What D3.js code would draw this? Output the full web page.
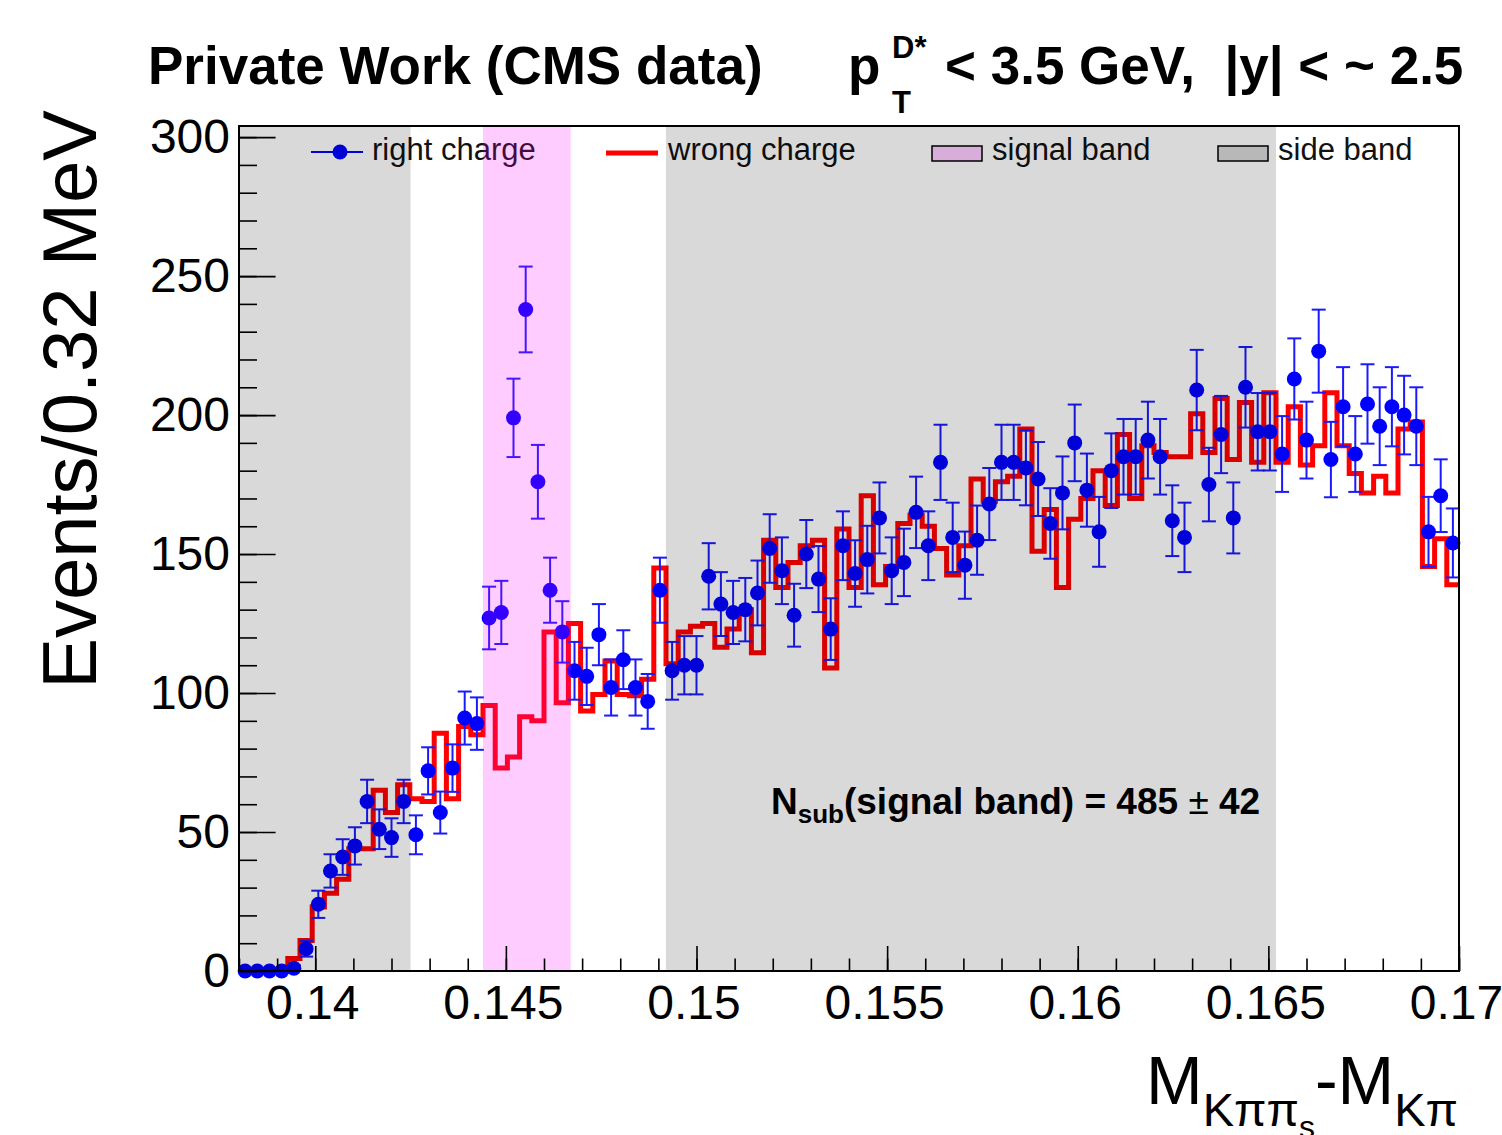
<!DOCTYPE html>
<html>
<head>
<meta charset="utf-8">
<script src="https://cdn.jsdelivr.net/npm/d3@7"></script>
<style>
  html, body { margin: 0; padding: 0; background: #fff; }
  svg { display: block; font-family: "Liberation Sans", Arial, Helvetica, sans-serif; }
  text { white-space: pre; }
</style>
</head>
<body>
<svg id="chart" width="1502" height="1135"></svg>
<script>
// ---------- data ----------
const xMin = 0.138, xMax = 0.170, binWidth = 0.00032;
const yMin = 0, yMax = 304;

// right charge (data points, one per bin of 0.32 MeV)
const rightCharge = [
  0, 0, 0, 0, 1, 8, 24, 36, 41, 45,
  61, 51, 48, 61, 49, 72, 57, 73, 91, 89,
  127, 129, 199, 238, 176, 137, 122, 108, 106, 121,
  102, 112, 102, 97, 137, 108, 110, 110, 142, 132,
  129, 130, 136, 152, 144, 128, 150, 141, 123, 153,
  143, 148, 163, 144, 147, 165, 153, 183, 156, 146,
  155, 168, 183, 183, 181, 177, 161, 172, 190, 173,
  158, 180, 185, 185, 191, 185, 162, 156, 209, 175,
  193, 163, 210, 194, 194, 186, 213, 191, 223, 184,
  203, 186, 204, 196, 203, 200, 196, 158, 171, 154
];

// wrong charge (histogram, one per bin)
const wrongCharge = [
  0, 0, 0, 0, 4.5, 11, 23, 28, 33, 44,
  44, 65, 57, 67, 62, 61, 85.5, 62, 88, 85,
  95.5, 73, 77, 91.5, 90, 122, 96.5, 125, 93.5, 99.5,
  111.5, 99.5, 99, 105, 145, 110.5, 122, 124, 125, 116.5,
  123, 130, 114.5, 155, 138, 147, 153, 155, 109, 159,
  138, 171, 139, 145.5, 161, 164, 160, 152, 142.5, 153,
  177, 169, 176, 178, 195, 151, 166, 138, 162.5, 170,
  180, 167.5, 193, 170, 189, 186.5, 185, 185, 200.5, 186.5,
  206, 184, 204.5, 183, 208, 183, 203, 182, 189, 208,
  189, 179, 172, 178, 172, 195, 197.5, 145.5, 155.5, 139
];

const signalBand = [0.1444, 0.1467];
const sideBands = [[0.138, 0.1425], [0.1492, 0.1652]];

const xMajorTicks = [0.14, 0.145, 0.15, 0.155, 0.16, 0.165, 0.17];
const xTickLabels = ["0.14", "0.145", "0.15", "0.155", "0.16", "0.165", "0.17"];
const yMajorTicks = [0, 50, 100, 150, 200, 250, 300];
const yTickLabels = ["0", "50", "100", "150", "200", "250", "300"];

const legendLabels = ["right charge", "wrong charge", "signal band", "side band"];

// ---------- layout ----------
const frame = { left: 239, right: 1459, top: 126, bottom: 971 };
const svg = d3.select("#chart");
const x = d3.scaleLinear().domain([xMin, xMax]).range([frame.left, frame.right]);
const y = d3.scaleLinear().domain([yMin, yMax]).range([frame.bottom, frame.top]);

const FONT = '"Liberation Sans", Arial, Helvetica, sans-serif';

svg.append("defs").append("clipPath").attr("id", "frameClip")
  .append("rect").attr("x", frame.left).attr("y", frame.top)
  .attr("width", frame.right - frame.left).attr("height", frame.bottom - frame.top);

// ---------- wrong charge histogram ----------
const nb = wrongCharge.length;
const histPts = wrongCharge.map((v, i) => [xMin + i * binWidth, v]);
histPts.push([xMin + nb * binWidth, wrongCharge[nb - 1]]);
const stepLine = d3.line().x(d => x(d[0])).y(d => y(d[1])).curve(d3.curveStepAfter);
svg.append("path")
  .attr("d", stepLine(histPts))
  .attr("fill", "none")
  .attr("stroke", "#ff0000")
  .attr("stroke-width", 5)
  .attr("stroke-linejoin", "miter");

// ---------- right charge points ----------
const pts = rightCharge.map((v, i) => ({ xc: xMin + (i + 0.5) * binWidth, v, e: Math.sqrt(v) }));
const gPts = svg.append("g");
const capW = 7;
pts.forEach(p => {
  if (p.e > 0) {
    const cx = x(p.xc);
    const y1 = y(p.v + p.e), y0 = y(p.v - p.e);
    gPts.append("line").attr("x1", cx).attr("x2", cx).attr("y1", y1).attr("y2", y0)
      .attr("stroke", "#1a1aff").attr("stroke-width", 2);
    gPts.append("line").attr("x1", cx - capW).attr("x2", cx + capW).attr("y1", y1).attr("y2", y1)
      .attr("stroke", "#1a1aff").attr("stroke-width", 2);
    gPts.append("line").attr("x1", cx - capW).attr("x2", cx + capW).attr("y1", y0).attr("y2", y0)
      .attr("stroke", "#1a1aff").attr("stroke-width", 2);
  }
});
gPts.selectAll("circle").data(pts).enter().append("circle")
  .attr("cx", d => x(d.xc)).attr("cy", d => y(d.v)).attr("r", 7.5)
  .attr("fill", "#0000ff");

// ---------- legend ----------
const lg = svg.append("g").attr("font-family", FONT).attr("font-size", 31).attr("fill", "#111");
lg.append("line").attr("x1", 311).attr("x2", 363).attr("y1", 152).attr("y2", 152)
  .attr("stroke", "#0000ff").attr("stroke-width", 2);
lg.append("circle").attr("cx", 340).attr("cy", 152).attr("r", 7.5).attr("fill", "#0000ff");
lg.append("text").attr("x", 372).attr("y", 160).text(legendLabels[0]);
lg.append("line").attr("x1", 606).attr("x2", 658).attr("y1", 153).attr("y2", 153)
  .attr("stroke", "#ff0000").attr("stroke-width", 5);
lg.append("text").attr("x", 668).attr("y", 160).text(legendLabels[1]);
lg.append("rect").attr("x", 932).attr("y", 146).attr("width", 50).attr("height", 15)
  .attr("fill", "#ffccff").attr("stroke", "#000").attr("stroke-width", 1.5);
lg.append("text").attr("x", 992).attr("y", 160).text(legendLabels[2]);
lg.append("rect").attr("x", 1218).attr("y", 146).attr("width", 50).attr("height", 15)
  .attr("fill", "#d9d9d9").attr("stroke", "#000").attr("stroke-width", 1.5);
lg.append("text").attr("x", 1278).attr("y", 160).text(legendLabels[3]);

// ---------- bands (semi-transparent overlay) ----------
const gb = svg.append("g").attr("clip-path", "url(#frameClip)");
sideBands.forEach(b => {
  gb.append("rect").attr("x", x(b[0])).attr("y", frame.top)
    .attr("width", x(b[1]) - x(b[0])).attr("height", frame.bottom - frame.top)
    .attr("fill", "rgba(0,0,0,0.15)");
});
gb.append("rect").attr("x", x(signalBand[0])).attr("y", frame.top)
  .attr("width", x(signalBand[1]) - x(signalBand[0])).attr("height", frame.bottom - frame.top)
  .attr("fill", "rgba(255,0,255,0.2)");

// ---------- axes ----------
const xMinor = d3.range(0, 33).map(k => +(xMin + k * 0.001).toFixed(4)).filter(v => v <= xMax);
const yMinor = d3.range(0, 31).map(k => k * 10);

const gxMinor = svg.append("g").attr("transform", `translate(0,${frame.bottom})`)
  .call(d3.axisBottom(x).tickValues(xMinor).tickSize(-12.5).tickSizeOuter(0).tickFormat(""));
const gx = svg.append("g").attr("transform", `translate(0,${frame.bottom})`)
  .call(d3.axisBottom(x).tickValues(xMajorTicks).tickSize(-25).tickSizeOuter(0)
    .tickPadding(14).tickFormat((d, i) => xTickLabels[i]));
const gyMinor = svg.append("g").attr("transform", `translate(${frame.left},0)`)
  .call(d3.axisLeft(y).tickValues(yMinor).tickSize(-18).tickSizeOuter(0).tickFormat(""));
const gy = svg.append("g").attr("transform", `translate(${frame.left},0)`)
  .call(d3.axisLeft(y).tickValues(yMajorTicks).tickSize(-36.6).tickSizeOuter(0)
    .tickPadding(9).tickFormat((d, i) => yTickLabels[i]));

[gxMinor, gx, gyMinor, gy].forEach(g => {
  g.selectAll(".domain").remove();
  g.selectAll(".tick line").attr("stroke", "#000").attr("stroke-width", 1.6);
  g.selectAll("text").attr("font-family", FONT).attr("font-size", 48).attr("fill", "#000");
});
gx.selectAll("text").attr("dx", -3);

// frame
svg.append("rect").attr("x", frame.left).attr("y", frame.top)
  .attr("width", frame.right - frame.left).attr("height", frame.bottom - frame.top)
  .attr("fill", "none").attr("stroke", "#000").attr("stroke-width", 2);

// ---------- titles ----------
svg.append("text").attr("x", 148).attr("y", 84)
  .attr("font-family", FONT).attr("font-weight", "bold").attr("font-size", 53)
  .text("Private Work (CMS data)");

const tr = svg.append("g").attr("font-family", FONT).attr("font-weight", "bold");
tr.append("text").attr("x", 848).attr("y", 84).attr("font-size", 53).text("p");
tr.append("text").attr("x", 892).attr("y", 58).attr("font-size", 31).text("D*");
tr.append("text").attr("x", 892).attr("y", 113).attr("font-size", 31).text("T");
tr.append("text").attr("x", 945).attr("y", 84).attr("font-size", 53).text("< 3.5 GeV,  |y| < ~ 2.5");

// y axis title
svg.append("text")
  .attr("transform", "translate(96,110) rotate(-90)")
  .attr("text-anchor", "end")
  .attr("font-family", FONT).attr("font-size", 76)
  .text("Events/0.32 MeV");

// x axis title
const xt = svg.append("text").attr("x", 1458).attr("y", 1104)
  .attr("text-anchor", "end").attr("font-family", FONT).attr("font-size", 68);
xt.append("tspan").text("M");
xt.append("tspan").attr("font-size", 47).attr("dy", 22).text("Kππ");
xt.append("tspan").attr("font-size", 32).attr("dy", 12).text("s");
xt.append("tspan").attr("dy", -34).text("-M");
xt.append("tspan").attr("font-size", 47).attr("dy", 22).text("Kπ");

// annotation
const an = svg.append("text").attr("x", 771).attr("y", 814)
  .attr("font-family", FONT).attr("font-weight", "bold").attr("font-size", 37);
an.append("tspan").text("N");
an.append("tspan").attr("font-size", 26).attr("dy", 9).text("sub");
an.append("tspan").attr("dy", -9).text("(signal band) = 485 ");
an.append("tspan").attr("font-weight", "normal").text("±");
an.append("tspan").text(" 42");
</script>
</body>
</html>
